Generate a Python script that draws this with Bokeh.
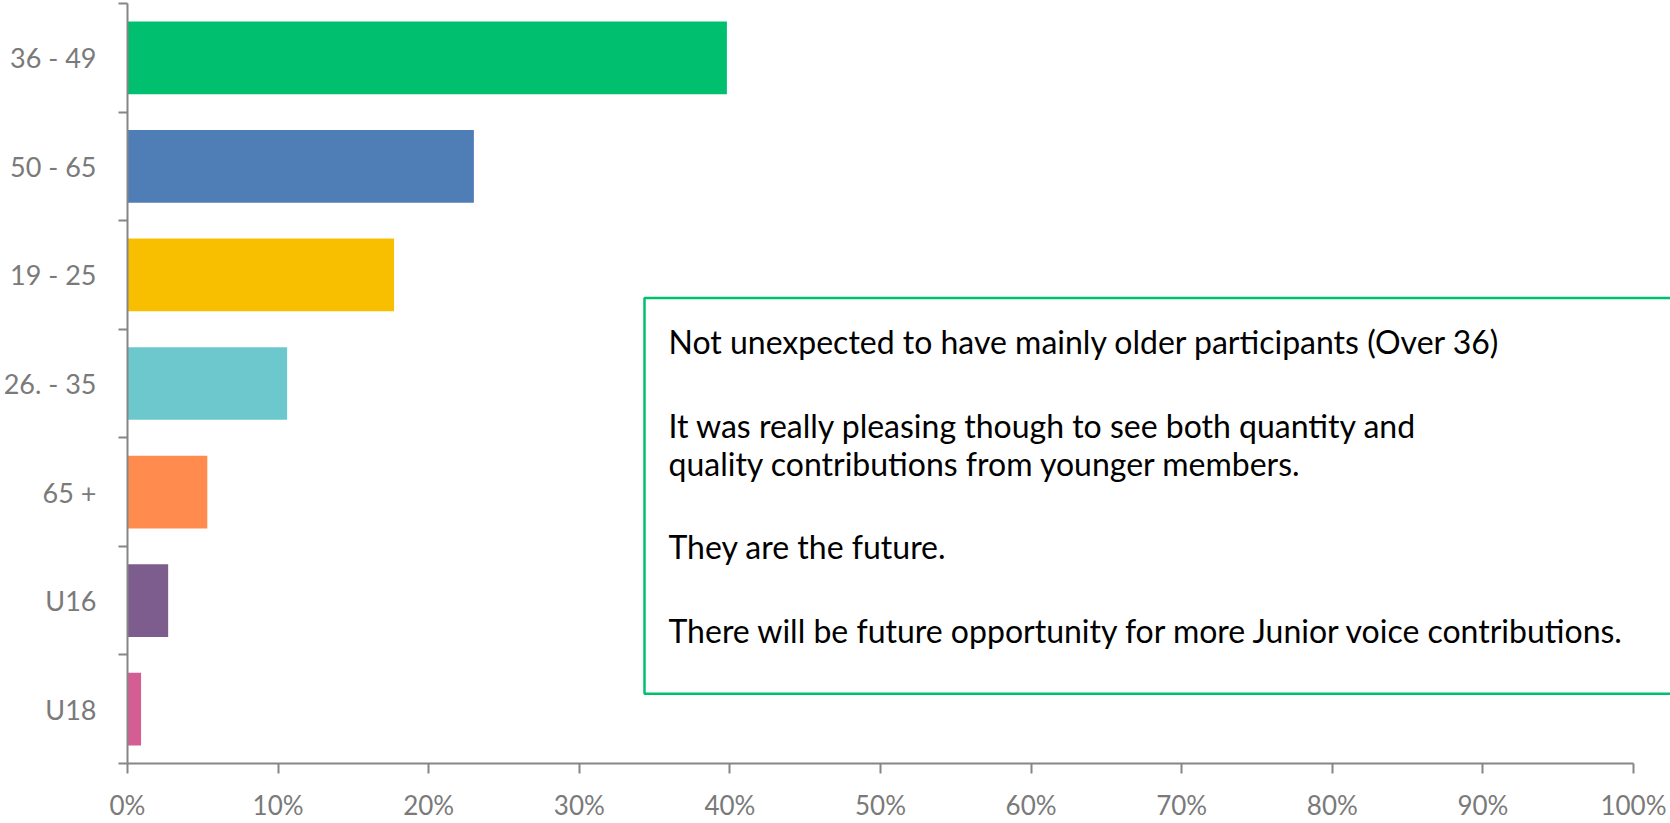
from bokeh.plotting import figure
from bokeh.models import Range1d, FixedTicker, BoxAnnotation, NumeralTickFormatter, ColumnDataSource
from bokeh.core.properties import value
from bokeh.embed import file_html
from bokeh.resources import INLINE

# ---- data ----
categories = ["36 - 49", "50 - 65", "19 - 25", "26. - 35", "65 +", "U16", "U18"]
shares = [0.398, 0.230, 0.177, 0.106, 0.053, 0.027, 0.009]
colors = ["#00BF6F", "#4F7DB6", "#F8BE00", "#6CC8CC", "#FF8B4F", "#7D5C8E", "#D45E93"]
x_ticks = [0.0, 0.1, 0.2, 0.3, 0.4, 0.5, 0.6, 0.7, 0.8, 0.9, 1.0]
note_paragraphs = [
    ["Not unexpected to have mainly older participants (Over 36)"],
    ["It was really pleasing though to see both quantity and",
     "quality contributions from younger members."],
    ["They are the future."],
    ["There will be future opportunity for more Junior voice contributions."],
]

# ---- geometry (pixels on the page) ----
W, H = 1670, 823
LEFT, TOP, BOTTOM = 127, 3, 767
PX_PER_X = 1506.0            # pixels for 0..100%
n = len(categories)
PX_PER_Y = (BOTTOM - TOP) / n


def px_to_x(px):
    return (px - LEFT) / PX_PER_X


def px_to_y(py):
    return (BOTTOM - py) / PX_PER_Y


ys = [n - 0.5 - i for i in range(n)]
src = ColumnDataSource(dict(y=ys, share=shares, color=colors, cat=categories))

p = figure(width=W, height=H,
           x_range=Range1d(0, (W - LEFT) / PX_PER_X),
           y_range=Range1d(0, n),
           output_backend="svg", toolbar_location=None,
           min_border_left=LEFT, min_border_right=0,
           min_border_top=TOP, min_border_bottom=H - BOTTOM)
p.outline_line_color = None
p.xgrid.visible = False
p.ygrid.visible = False
p.background_fill_color = "white"
p.border_fill_color = "white"

p.hbar(y="y", left=0, right="share", height=0.67, fill_color="color",
       line_color=None, source=src)

GRAY = "#868686"
LABEL = "#7a7a7a"
FONT = "Lato"

# y axis
yax = p.yaxis[0]
yax.ticker = FixedTicker(ticks=ys, minor_ticks=list(range(n + 1)))
yax.major_label_overrides = {y: c for y, c in zip(ys, categories)}
yax.axis_line_color = GRAY
yax.axis_line_width = 2
yax.major_tick_out = 0
yax.major_tick_in = 0
yax.minor_tick_out = 9
yax.minor_tick_in = 0
yax.minor_tick_line_color = GRAY
yax.minor_tick_line_width = 2
yax.major_label_standoff = 22
yax.major_label_text_font = FONT
yax.major_label_text_font_size = "27px"
yax.major_label_text_color = LABEL

# x axis
xax = p.xaxis[0]
xax.ticker = FixedTicker(ticks=x_ticks)
xax.formatter = NumeralTickFormatter(format="0%")
xax.bounds = (0, 1)
xax.axis_line_color = GRAY
xax.axis_line_width = 2
xax.major_tick_out = 10
xax.major_tick_in = 0
xax.major_tick_line_color = GRAY
xax.major_tick_line_width = 2
xax.minor_tick_line_color = None
xax.major_label_standoff = 15
xax.major_label_text_font = FONT
xax.major_label_text_font_size = "26px"
xax.major_label_text_color = LABEL

# note box
box = BoxAnnotation(left=px_to_x(644), right=px_to_x(W + 40),
                    top=px_to_y(299), bottom=px_to_y(697),
                    fill_alpha=0, line_alpha=1.0,
                    line_color="#00C070", line_width=2.5)
p.add_layout(box)

# note text
tx, ty, tt = [], [], []
base = 343
line_gap = 38
para_gap = 84
yy = base
for para in note_paragraphs:
    for j, line in enumerate(para):
        tx.append(px_to_x(668))
        ty.append(px_to_y(yy + j * line_gap))
        tt.append(line)
    yy += (len(para) - 1) * line_gap + para_gap

p.text(x=tx, y=ty, text=tt, text_font=value(FONT), text_font_size="32px",
       text_color="#000000", text_baseline="alphabetic", text_align="left")

open("out.html", "w").write(file_html(p, INLINE))
